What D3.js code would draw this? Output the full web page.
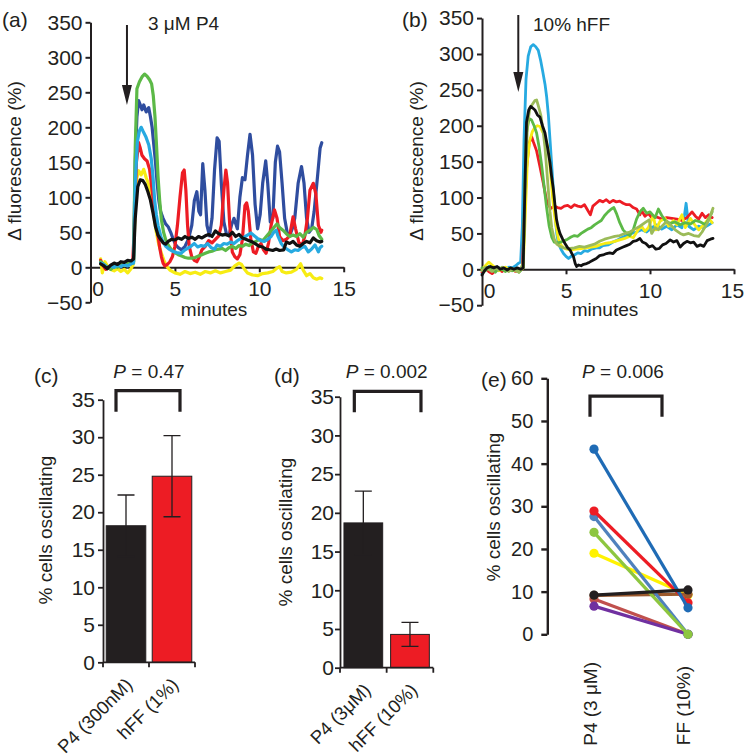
<!DOCTYPE html>
<html><head><meta charset="utf-8">
<script src="https://cdn.jsdelivr.net/npm/d3@7"></script>
<style>
body{margin:0;background:#fff}
svg{display:block}
text{font-family:"Liberation Sans",Arial,sans-serif;fill:#231f20}
</style>
</head><body>
<svg id="chart" width="744" height="756"></svg>
<script>
// ---------- DATA ----------
// Panel (a): 3 µM P4, [minutes, Δ fluorescence %]
const aYellow = [[0.6,12],[0.7,-8],[0.85,8],[1.0,2],[1.2,-3],[1.4,-5],[1.6,-2],[1.8,-6],[2.0,-3],[2.2,-8],[2.4,-2],[2.55,5],[2.65,90],[2.75,128],[2.85,138],[3.0,132],[3.15,140],[3.3,128],[3.45,118],[3.6,95],[3.75,75],[3.9,50],[4.05,32],[4.2,20],[4.35,10],[4.5,2],[4.7,-4],[5.0,-8],[5.3,-10],[5.6,-6],[5.9,-9],[6.2,-7],[6.5,-10],[6.8,-6],[7.1,-8],[7.4,-5],[7.7,-8],[8.0,-6],[8.3,-4],[8.55,2],[8.8,6],[8.95,4],[9.1,-2],[9.3,-8],[9.6,-11],[9.9,-12],[10.2,-9],[10.5,-8],[10.8,-6],[11.0,-2],[11.2,1],[11.35,-6],[11.6,-8],[11.9,-7],[12.2,-3],[12.45,5],[12.6,-4],[12.8,-12],[13.0,-9],[13.2,-15],[13.4,-17],[13.6,-15],[13.7,-16]];
const aBlue = [[0.6,8],[0.8,3],[1.0,0],[1.2,-2],[1.4,2],[1.6,5],[1.8,2],[2.0,6],[2.2,4],[2.4,7],[2.55,8],[2.65,150],[2.75,215],[2.85,238],[2.95,232],[3.05,225],[3.15,232],[3.3,222],[3.45,228],[3.55,215],[3.65,200],[3.75,175],[3.85,150],[3.95,120],[4.05,95],[4.15,80],[4.3,70],[4.45,62],[4.6,58],[4.75,50],[4.9,40],[5.05,32],[5.2,28],[5.4,25],[5.6,30],[5.8,40],[6.0,60],[6.15,95],[6.3,108],[6.42,80],[6.52,75],[6.65,148],[6.78,110],[6.9,60],[7.05,45],[7.2,70],[7.35,140],[7.5,185],[7.62,180],[7.75,120],[7.9,65],[8.05,48],[8.2,45],[8.35,60],[8.5,70],[8.7,55],[8.85,100],[9.0,128],[9.15,125],[9.3,160],[9.45,190],[9.6,160],[9.75,90],[9.9,55],[10.05,75],[10.2,120],[10.38,152],[10.5,120],[10.65,65],[10.8,70],[10.95,150],[11.08,173],[11.2,165],[11.35,120],[11.5,70],[11.65,50],[11.8,45],[11.95,55],[12.1,70],[12.3,120],[12.5,144],[12.65,120],[12.8,70],[12.95,50],[13.1,55],[13.25,80],[13.45,130],[13.6,170],[13.7,178]];
const aRed = [[0.6,10],[0.75,2],[0.9,-3],[1.1,0],[1.3,4],[1.5,2],[1.7,5],[1.9,3],[2.1,6],[2.3,4],[2.5,6],[2.6,60],[2.72,150],[2.85,178],[2.95,170],[3.05,160],[3.2,155],[3.35,152],[3.5,140],[3.6,120],[3.7,100],[3.8,80],[3.9,62],[4.0,45],[4.1,28],[4.2,15],[4.3,6],[4.4,2],[4.55,4],[4.7,8],[4.85,15],[5.0,30],[5.15,60],[5.3,100],[5.45,135],[5.55,139],[5.65,110],[5.75,60],[5.85,30],[6.0,15],[6.15,10],[6.3,8],[6.45,15],[6.6,25],[6.8,30],[7.0,38],[7.2,35],[7.4,40],[7.6,45],[7.75,60],[7.9,110],[8.02,139],[8.12,120],[8.25,60],[8.4,22],[8.55,15],[8.7,12],[8.85,18],[9.0,40],[9.15,88],[9.25,92],[9.35,80],[9.5,40],[9.65,22],[9.8,20],[9.95,30],[10.1,34],[10.25,25],[10.4,20],[10.55,35],[10.7,60],[10.9,82],[11.05,70],[11.2,44],[11.4,38],[11.6,40],[11.8,45],[12.0,72],[12.15,55],[12.35,35],[12.55,32],[12.7,45],[12.85,70],[13.0,110],[13.2,120],[13.35,105],[13.5,60],[13.65,50],[13.7,53]];
const aGreen = [[0.6,8],[0.8,4],[1.0,0],[1.2,-3],[1.4,2],[1.6,0],[1.8,4],[2.0,3],[2.2,6],[2.4,5],[2.55,8],[2.65,170],[2.75,255],[2.9,265],[3.05,272],[3.2,276],[3.35,273],[3.5,268],[3.62,262],[3.72,245],[3.82,215],[3.92,170],[4.0,130],[4.1,95],[4.2,68],[4.33,50],[4.46,39],[4.6,32],[4.8,25],[5.0,21],[5.2,18],[5.4,16],[5.6,14],[5.8,13],[6.0,13],[6.2,14],[6.4,16],[6.6,18],[6.8,20],[7.0,22],[7.2,23],[7.4,25],[7.6,26],[7.8,27],[8.0,24],[8.2,28],[8.4,30],[8.6,27],[8.8,31],[9.0,30],[9.2,33],[9.4,31],[9.6,35],[9.8,37],[10.0,40],[10.2,38],[10.45,45],[10.7,52],[10.9,58],[11.05,62],[11.2,57],[11.4,53],[11.6,48],[11.8,44],[12.0,46],[12.2,44],[12.4,48],[12.6,43],[12.8,50],[13.0,53],[13.2,57],[13.4,54],[13.55,45],[13.7,40]];
const aCyan = [[0.6,6],[0.8,4],[1.0,-1],[1.2,2],[1.4,0],[1.6,3],[1.8,1],[2.0,4],[2.2,2],[2.4,5],[2.55,6],[2.65,120],[2.78,180],[2.9,195],[3.0,200],[3.1,195],[3.27,187],[3.45,175],[3.6,155],[3.7,130],[3.8,96],[3.9,75],[4.0,60],[4.17,44],[4.3,36],[4.46,30],[4.65,26],[4.86,23],[5.1,21],[5.36,20],[5.55,24],[5.75,27],[5.95,30],[6.15,34],[6.35,29],[6.55,31],[6.75,30],[6.94,34],[7.15,28],[7.35,26],[7.5,32],[7.7,30],[7.9,34],[8.1,33],[8.3,36],[8.5,34],[8.7,38],[8.9,41],[9.1,43],[9.3,46],[9.5,49],[9.7,45],[9.9,41],[10.1,38],[10.3,37],[10.5,40],[10.7,44],[10.85,50],[11.0,53],[11.1,45],[11.3,34],[11.5,28],[11.7,25],[11.9,22],[12.1,25],[12.3,24],[12.5,28],[12.7,30],[12.9,22],[13.1,26],[13.3,32],[13.5,22],[13.6,28],[13.7,30]];
const aBlack = [[0.6,5],[0.8,2],[1.0,-2],[1.2,3],[1.4,6],[1.6,4],[1.8,8],[2.0,7],[2.2,10],[2.4,9],[2.55,12],[2.65,70],[2.8,115],[2.95,125],[3.1,124],[3.25,118],[3.4,108],[3.55,96],[3.7,78],[3.85,58],[4.0,46],[4.15,40],[4.3,35],[4.45,33],[4.6,37],[4.8,40],[5.0,39],[5.2,42],[5.4,40],[5.6,44],[5.8,41],[6.0,43],[6.2,40],[6.4,44],[6.6,42],[6.8,45],[7.0,47],[7.2,44],[7.4,52],[7.6,48],[7.8,46],[8.0,47],[8.2,45],[8.4,50],[8.6,44],[8.8,47],[9.0,42],[9.2,40],[9.4,38],[9.6,36],[9.8,33],[10.0,30],[10.2,29],[10.4,26],[10.6,25],[10.8,24],[11.0,26],[11.2,24],[11.45,25],[11.6,36],[11.8,34],[12.0,37],[12.2,32],[12.4,30],[12.6,34],[12.8,37],[13.0,35],[13.2,42],[13.4,38],[13.6,36],[13.7,37]];

// Panel (b): 10% hFF
const bCyan = [[0.0,-6],[0.2,0],[0.4,4],[0.6,2],[0.8,0],[1.0,2],[1.2,-2],[1.4,0],[1.6,3],[1.8,2],[2.0,5],[2.15,8],[2.3,10],[2.4,60],[2.5,180],[2.62,265],[2.75,297],[2.9,310],[3.05,313],[3.2,310],[3.35,305],[3.5,290],[3.62,275],[3.75,258],[3.85,240],[3.95,215],[4.05,180],[4.15,145],[4.25,110],[4.35,75],[4.45,50],[4.55,36],[4.7,28],[4.85,22],[5.0,18],[5.15,15],[5.3,18],[5.5,20],[5.7,23],[5.9,22],[6.1,26],[6.3,25],[6.5,28],[6.8,30],[7.0,30],[7.2,33],[7.5,34],[7.8,38],[8.0,40],[8.3,44],[8.6,47],[8.9,50],[9.2,52],[9.5,55],[9.8,52],[10.1,58],[10.4,62],[10.7,56],[11.0,60],[11.3,55],[11.6,62],[11.9,58],[12.05,75],[12.15,92],[12.3,60],[12.6,55],[12.9,60],[13.2,58],[13.5,62],[13.7,65]];
const bRed = [[0.0,-4],[0.2,2],[0.4,-3],[0.6,-6],[0.8,-2],[1.0,0],[1.2,-3],[1.4,2],[1.6,-2],[1.8,0],[2.0,-3],[2.2,-2],[2.4,0],[2.5,60],[2.65,140],[2.8,175],[2.95,185],[3.05,178],[3.25,165],[3.45,143],[3.65,120],[3.85,95],[4.0,88],[4.1,85],[4.3,88],[4.5,86],[4.7,85],[4.9,88],[5.1,89],[5.3,86],[5.5,90],[5.7,88],[5.9,87],[6.1,90],[6.3,82],[6.45,76],[6.6,88],[6.8,92],[7.0,96],[7.2,94],[7.4,97],[7.6,93],[7.8,96],[8.0,94],[8.2,95],[8.4,92],[8.6,90],[8.8,90],[9.0,86],[9.2,84],[9.4,76],[9.5,82],[9.7,74],[9.9,78],[10.1,72],[10.4,73],[10.7,70],[11.0,72],[11.3,71],[11.6,70],[11.9,68],[12.2,72],[12.5,80],[12.7,74],[12.9,70],[13.1,78],[13.3,72],[13.5,76],[13.7,72]];
const bYellow = [[0.0,0],[0.2,5],[0.4,10],[0.6,6],[0.8,2],[1.0,-2],[1.2,0],[1.4,3],[1.6,-1],[1.8,1],[2.0,-2],[2.2,0],[2.45,2],[2.55,60],[2.7,150],[2.85,180],[3.0,192],[3.15,198],[3.3,200],[3.45,199],[3.6,192],[3.75,185],[3.9,172],[4.0,155],[4.1,130],[4.2,100],[4.3,80],[4.4,62],[4.55,42],[4.7,34],[4.85,30],[5.05,28],[5.3,27],[5.6,28],[5.9,29],[6.2,30],[6.5,31],[6.8,32],[7.0,34],[7.3,36],[7.6,37],[7.9,39],[8.2,41],[8.5,43],[8.8,46],[9.0,44],[9.3,55],[9.5,60],[9.7,53],[9.9,58],[10.2,75],[10.35,55],[10.6,67],[10.9,71],[11.1,60],[11.4,68],[11.6,62],[11.9,76],[12.1,58],[12.4,71],[12.6,64],[12.9,55],[13.2,62],[13.5,71],[13.7,65]];
const bGreen = [[0.0,2],[0.2,-2],[0.4,3],[0.6,0],[0.8,-4],[1.0,2],[1.2,0],[1.4,-3],[1.6,1],[1.8,-2],[2.0,0],[2.2,-4],[2.45,2],[2.55,120],[2.65,190],[2.8,210],[2.95,208],[3.1,200],[3.25,190],[3.4,170],[3.55,145],[3.7,115],[3.85,85],[4.0,60],[4.15,45],[4.3,38],[4.5,37],[4.7,38],[4.9,40],[5.1,42],[5.3,45],[5.5,47],[5.7,46],[5.9,50],[6.1,53],[6.3,56],[6.5,58],[6.7,62],[6.9,65],[7.1,68],[7.3,75],[7.5,80],[7.7,84],[7.85,86],[8.0,78],[8.2,65],[8.4,55],[8.6,50],[8.8,47],[9.0,55],[9.2,70],[9.4,80],[9.6,85],[9.8,78],[10.0,80],[10.3,72],[10.5,84],[10.7,75],[10.9,68],[11.2,64],[11.5,66],[11.8,62],[12.1,65],[12.4,63],[12.7,68],[13.0,66],[13.3,62],[13.5,70],[13.7,80]];
const bOlive = [[0.0,-2],[0.2,3],[0.4,0],[0.6,-3],[0.8,2],[1.0,-1],[1.2,3],[1.4,0],[1.6,-3],[1.8,1],[2.0,-2],[2.2,-4],[2.45,8],[2.55,100],[2.7,200],[2.85,225],[3.0,230],[3.15,235],[3.25,236],[3.35,228],[3.5,215],[3.65,190],[3.75,170],[3.85,140],[3.95,110],[4.05,80],[4.15,58],[4.3,42],[4.45,35],[4.64,32],[4.85,30],[5.05,29],[5.25,29],[5.5,30],[5.8,32],[6.1,31],[6.4,33],[6.7,35],[7.0,39],[7.3,42],[7.6,44],[7.9,46],[8.2,47],[8.5,50],[8.8,52],[9.1,56],[9.4,60],[9.7,65],[9.95,69],[10.1,50],[10.3,58],[10.5,55],[10.8,62],[11.0,67],[11.3,60],[11.5,55],[11.8,50],[12.0,48],[12.3,50],[12.6,47],[12.9,46],[13.1,52],[13.4,64],[13.6,75],[13.75,85]];
const bBlack = [[0.0,-8],[0.15,-2],[0.3,2],[0.5,4],[0.7,2],[0.9,4],[1.1,0],[1.3,2],[1.5,-1],[1.7,2],[1.9,0],[2.1,2],[2.3,0],[2.45,2],[2.55,110],[2.65,205],[2.78,222],[2.9,227],[3.05,224],[3.15,222],[3.3,215],[3.45,212],[3.6,200],[3.75,190],[3.9,170],[4.05,148],[4.15,128],[4.25,111],[4.35,88],[4.44,69],[4.54,58],[4.64,50],[4.8,42],[4.94,36],[5.1,30],[5.24,27],[5.35,22],[5.44,18],[5.55,8],[5.63,4],[5.75,6],[5.9,5],[6.05,7],[6.23,8],[6.4,10],[6.63,13],[6.8,15],[7.0,19],[7.2,20],[7.42,22],[7.6,23],[7.8,22],[8.0,27],[8.2,29],[8.4,31],[8.6,33],[8.8,35],[9.0,39],[9.2,40],[9.4,43],[9.55,38],[9.75,36],[9.95,31],[10.15,33],[10.35,28],[10.55,29],[10.75,34],[10.95,36],[11.2,41],[11.4,38],[11.6,40],[11.8,31],[12.0,36],[12.2,39],[12.4,37],[12.6,38],[12.8,32],[13.0,34],[13.2,32],[13.4,40],[13.6,42],[13.75,43]];

const timeTicks = [0, 5, 10, 15];
const fluoTicks = [-50, 0, 50, 100, 150, 200, 250, 300, 350];
const arrowTime = 2.16;

// Panel (c)
const catsC = ["P4 (300nM)", "hFF (1%)"];
const meanC = [18.2, 24.8];
const errC = [4.1, 5.4];
// Panel (d)
const catsD = ["P4 (3μM)", "hFF (10%)"];
const meanD = [18.7, 4.3];
const errD = [4.1, 1.55];
const pctTicks = [0, 5, 10, 15, 20, 25, 30, 35];
const barColors = ["#231f20", "#ed1c24"];

// Panel (e): paired values P4 (3 µM) -> FF (10%)
const catsE = ["P4 (3 μM)", "FF (10%)"];
const pairP4 = [19.0, 8.3, 6.6, 9.1, 27.6, 28.9, 23.9, 43.4, 9.2];
const pairFF = [9.2, 0, 0, 9.4, 0, 7.4, 0, 6.2, 10.4];
const pairColors = ["#fff200", "#c0504d", "#7030a0", "#9c5a2e", "#4f81bd", "#ed1c24", "#8dc63f", "#1f6bb5", "#231f20"];
const eTicks = [0, 10, 20, 30, 40, 50, 60];

// ---------- DRAW ----------
const svg = d3.select("#chart");
const ink = "#231f20";
const FS = 19;     // titles, annotations
const TFS = 21;    // tick labels

function trace(g, data, x, y, color, w) {
  g.append("path").datum(data)
    .attr("d", d3.line().x(d => x(d[0])).y(d => y(d[1])))
    .attr("fill", "none").attr("stroke", color).attr("stroke-width", w)
    .attr("stroke-linejoin", "round").attr("stroke-linecap", "round");
}
function styleAxis(g, w, fs) {
  g.selectAll("path,line").attr("stroke", ink).attr("stroke-width", w);
  g.selectAll("text").attr("font-size", fs || TFS).attr("fill", ink)
    .attr("font-family", '"Liberation Sans", Arial, sans-serif');
}
function arrow(g, x, yTop, yTip) {
  g.append("line").attr("x1", x).attr("x2", x).attr("y1", yTop).attr("y2", yTip - 16)
    .attr("stroke", ink).attr("stroke-width", 2);
  g.append("path").attr("d", `M${x-5},${yTip-20}L${x+5},${yTip-20}L${x},${yTip}Z`).attr("fill", ink);
}
function pText(g, cx, y, val) {
  const t = g.append("text").attr("x", cx).attr("y", y).attr("text-anchor", "middle").attr("font-size", FS);
  t.append("tspan").attr("font-style", "italic").text("P");
  t.append("tspan").text(" = " + val);
}
function bracket(g, x1, x2, yTop, yBot) {
  g.append("path").attr("d", `M${x1},${yBot}V${yTop}H${x2}V${yBot}`)
    .attr("fill", "none").attr("stroke", ink).attr("stroke-width", 3.2);
}
function yTitle(g, x, y, txt) {
  g.append("text").attr("transform", `translate(${x},${y}) rotate(-90)`)
    .attr("text-anchor", "middle").attr("dy", "0.35em").attr("font-size", FS).text(txt);
}

// ---- Time-course panel builder
function timePanel(cfg) {
  const g = svg.append("g");
  const x = d3.scaleLinear([0, 15], cfg.xr);
  const y = d3.scaleLinear([-50, 350], cfg.yr);
  const ya = g.append("g").attr("transform", `translate(${cfg.xr[0]},0)`)
    .call(d3.axisLeft(y).tickValues(fluoTicks).tickSize(5).tickSizeOuter(0).tickPadding(3).tickFormat(d => d < 0 ? "\u2212" + Math.abs(d) : d));
  styleAxis(ya, 2);
  const xa = g.append("g").attr("transform", `translate(0,${y(0)})`)
    .call(d3.axisBottom(x).tickValues(timeTicks).tickSize(5).tickSizeOuter(0).tickPadding(9));
  styleAxis(xa, 2);
  xa.selectAll(".tick").filter(d => d === 0).select("line").remove();
  xa.selectAll(".tick").filter(d => d === 0).select("text").attr("dx", 7);
  xa.selectAll(".tick").filter(d => d === 15).select("text").attr("dx", cfg.dx15);
  cfg.traces.forEach(([d, c]) => trace(g, d, x, y, c, cfg.lw));
  arrow(g, x(arrowTime), cfg.arrowTop, cfg.arrowTip);
  g.append("text").attr("x", cfg.annX).attr("y", cfg.annY).attr("font-size", FS).text(cfg.ann);
  g.append("text").attr("x", cfg.labX).attr("y", cfg.labY).attr("font-size", 21).text(cfg.lab);
  g.append("text").attr("x", (cfg.xr[0] + cfg.xr[1]) / 2 - 3).attr("y", 316).attr("text-anchor", "middle").attr("font-size", FS).text("minutes");
  yTitle(g, cfg.titleX, 161, "\u0394 fluorescence (%)");
}

timePanel({
  xr: [90.5, 343.7], yr: [302.3, 22.3], lw: 3.2, dx15: 0,
  traces: [[aYellow, "#f7ec13"], [aBlue, "#2f4d9f"], [aRed, "#ed1c24"], [aGreen, "#5cb947"], [aCyan, "#27aae1"], [aBlack, "#111"]],
  arrowTop: 25, arrowTip: 105, ann: "3 \u03bcM P4", annX: 148, annY: 30,
  lab: "(a)", labX: 2, labY: 27, titleX: 14
});
timePanel({
  xr: [482, 734], yr: [305.2, 18.1], lw: 2.8, dx15: -2,
  traces: [[bCyan, "#27aae1"], [bRed, "#ed1c24"], [bYellow, "#f7ec13"], [bGreen, "#5cb947"], [bOlive, "#9bbb59"], [bBlack, "#111"]],
  arrowTop: 15, arrowTip: 92, ann: "10% hFF", annX: 533, annY: 31,
  lab: "(b)", labX: 402, labY: 27, titleX: 416
});

// ---- Bar panel builder
function barPanel(cfg) {
  const g = svg.append("g");
  const x = d3.scaleBand(cfg.cats, cfg.xr).paddingInner(cfg.pin).paddingOuter(cfg.pout);
  const y = d3.scaleLinear([0, 35], cfg.yr);
  const ya = g.append("g").attr("transform", `translate(${cfg.xr[0]},0)`)
    .call(d3.axisLeft(y).tickValues(pctTicks).tickSize(5).tickSizeOuter(0).tickPadding(cfg.tpad));
  styleAxis(ya, 1.8);
  g.selectAll("rect.bar").data(cfg.cats).join("rect")
    .attr("x", d => x(d)).attr("width", x.bandwidth())
    .attr("y", (d, i) => y(cfg.mean[i])).attr("height", (d, i) => y(0) - y(cfg.mean[i]))
    .attr("fill", (d, i) => barColors[i]).attr("stroke", ink).attr("stroke-width", 1);
  cfg.cats.forEach((c, i) => {
    const cx = x(c) + x.bandwidth() / 2, hi = y(cfg.mean[i] + cfg.err[i]), lo = y(cfg.mean[i] - cfg.err[i]);
    g.append("path").attr("d", `M${cx},${lo}V${hi}M${cx-8.5},${hi}H${cx+8.5}M${cx-8.5},${lo}H${cx+8.5}`)
      .attr("stroke", ink).attr("stroke-width", 1.3).attr("fill", "none");
  });
  const y0 = y(0);
  const xs = [cfg.xr[0], cfg.xr[0] + (cfg.xr[1] - cfg.xr[0]) / 2, cfg.xr[1]];
  g.append("path").attr("d", `M${cfg.xr[0]},${y0}H${cfg.xr[1]}` + xs.map(v => `M${v},${y0}V${y0 + 5}`).join(""))
    .attr("stroke", ink).attr("stroke-width", 1.8).attr("fill", "none");
  cfg.cats.forEach((c, i) => {
    const cx = x(c) + x.bandwidth() / 2;
    g.append("text").attr("transform", `translate(${cx + cfg.lx},${y0 + cfg.ly}) rotate(-45)`)
      .attr("text-anchor", "end").attr("dominant-baseline", "hanging").attr("font-size", 18.5).text(c);
  });
  const c0 = x(cfg.cats[0]) + x.bandwidth() / 2, c1 = x(cfg.cats[1]) + x.bandwidth() / 2;
  bracket(g, c0 + cfg.b0, c1 + cfg.b1, y(cfg.bTop), y(cfg.bBot));
  pText(g, (c0 + c1) / 2, 378, cfg.p);
  g.append("text").attr("x", cfg.labX).attr("y", 383).attr("font-size", 21).text(cfg.lab);
  yTitle(g, cfg.titleX, cfg.titleY, "% cells oscillating");
}

barPanel({
  cats: catsC, mean: meanC, err: errC, xr: [103, 195], yr: [662.3, 399.7], pin: 0.14, pout: 0.07, tpad: 3,
  lx: -2, ly: 14, b0: -10, b1: 8, bTop: 36.2, bBot: 33.4, p: "0.47", lab: "(c)", labX: 34, titleX: 45, titleY: 530
});
barPanel({
  cats: catsD, mean: meanD, err: errD, xr: [340, 433.3], yr: [667.7, 396.7], pin: 0.17, pout: 0.085, tpad: 1,
  lx: -1, ly: 14, b0: -9, b1: 11, bTop: 35.7, bBot: 33.0, p: "0.002", lab: "(d)", labX: 274, titleX: 285, titleY: 532
});

// ---- Panel (e): paired dot plot
(function () {
  const g = svg.append("g");
  const x = d3.scalePoint(catsE, [594, 688]);
  const y = d3.scaleLinear([0, 60], [634.3, 378.3]);
  const ya = g.append("g").attr("transform", "translate(547.3,0)")
    .call(d3.axisLeft(y).tickValues(eTicks).tickSize(6).tickSizeOuter(0).tickPadding(8));
  styleAxis(ya, 2.4, 20);
  pairP4.forEach((v, i) => {
    const pts = [[catsE[0], v], [catsE[1], pairFF[i]]];
    g.append("path").datum(pts).attr("d", d3.line().x(d => x(d[0])).y(d => y(d[1])))
      .attr("stroke", pairColors[i]).attr("stroke-width", 3.2).attr("fill", "none");
    g.selectAll(null).data(pts).join("circle")
      .attr("cx", d => x(d[0])).attr("cy", d => y(d[1])).attr("r", 4.6).attr("fill", pairColors[i]);
  });
  catsE.forEach((c, i) => {
    g.append("text").attr("transform", `translate(${x(c) - 4 - i},${662 + i * 4}) rotate(-90)`)
      .attr("text-anchor", "end").attr("dy", "0.35em").attr("font-size", FS).text(c);
  });
  bracket(g, x(catsE[0]) - 4, x(catsE[0]) + 68, y(55.8), y(51.0));
  pText(g, 623, 378, "0.006");
  g.append("text").attr("x", 481).attr("y", 387).attr("font-size", 21).text("(e)");
  yTitle(g, 493, 507, "% cells oscillating");
})();
</script>
</body></html>
